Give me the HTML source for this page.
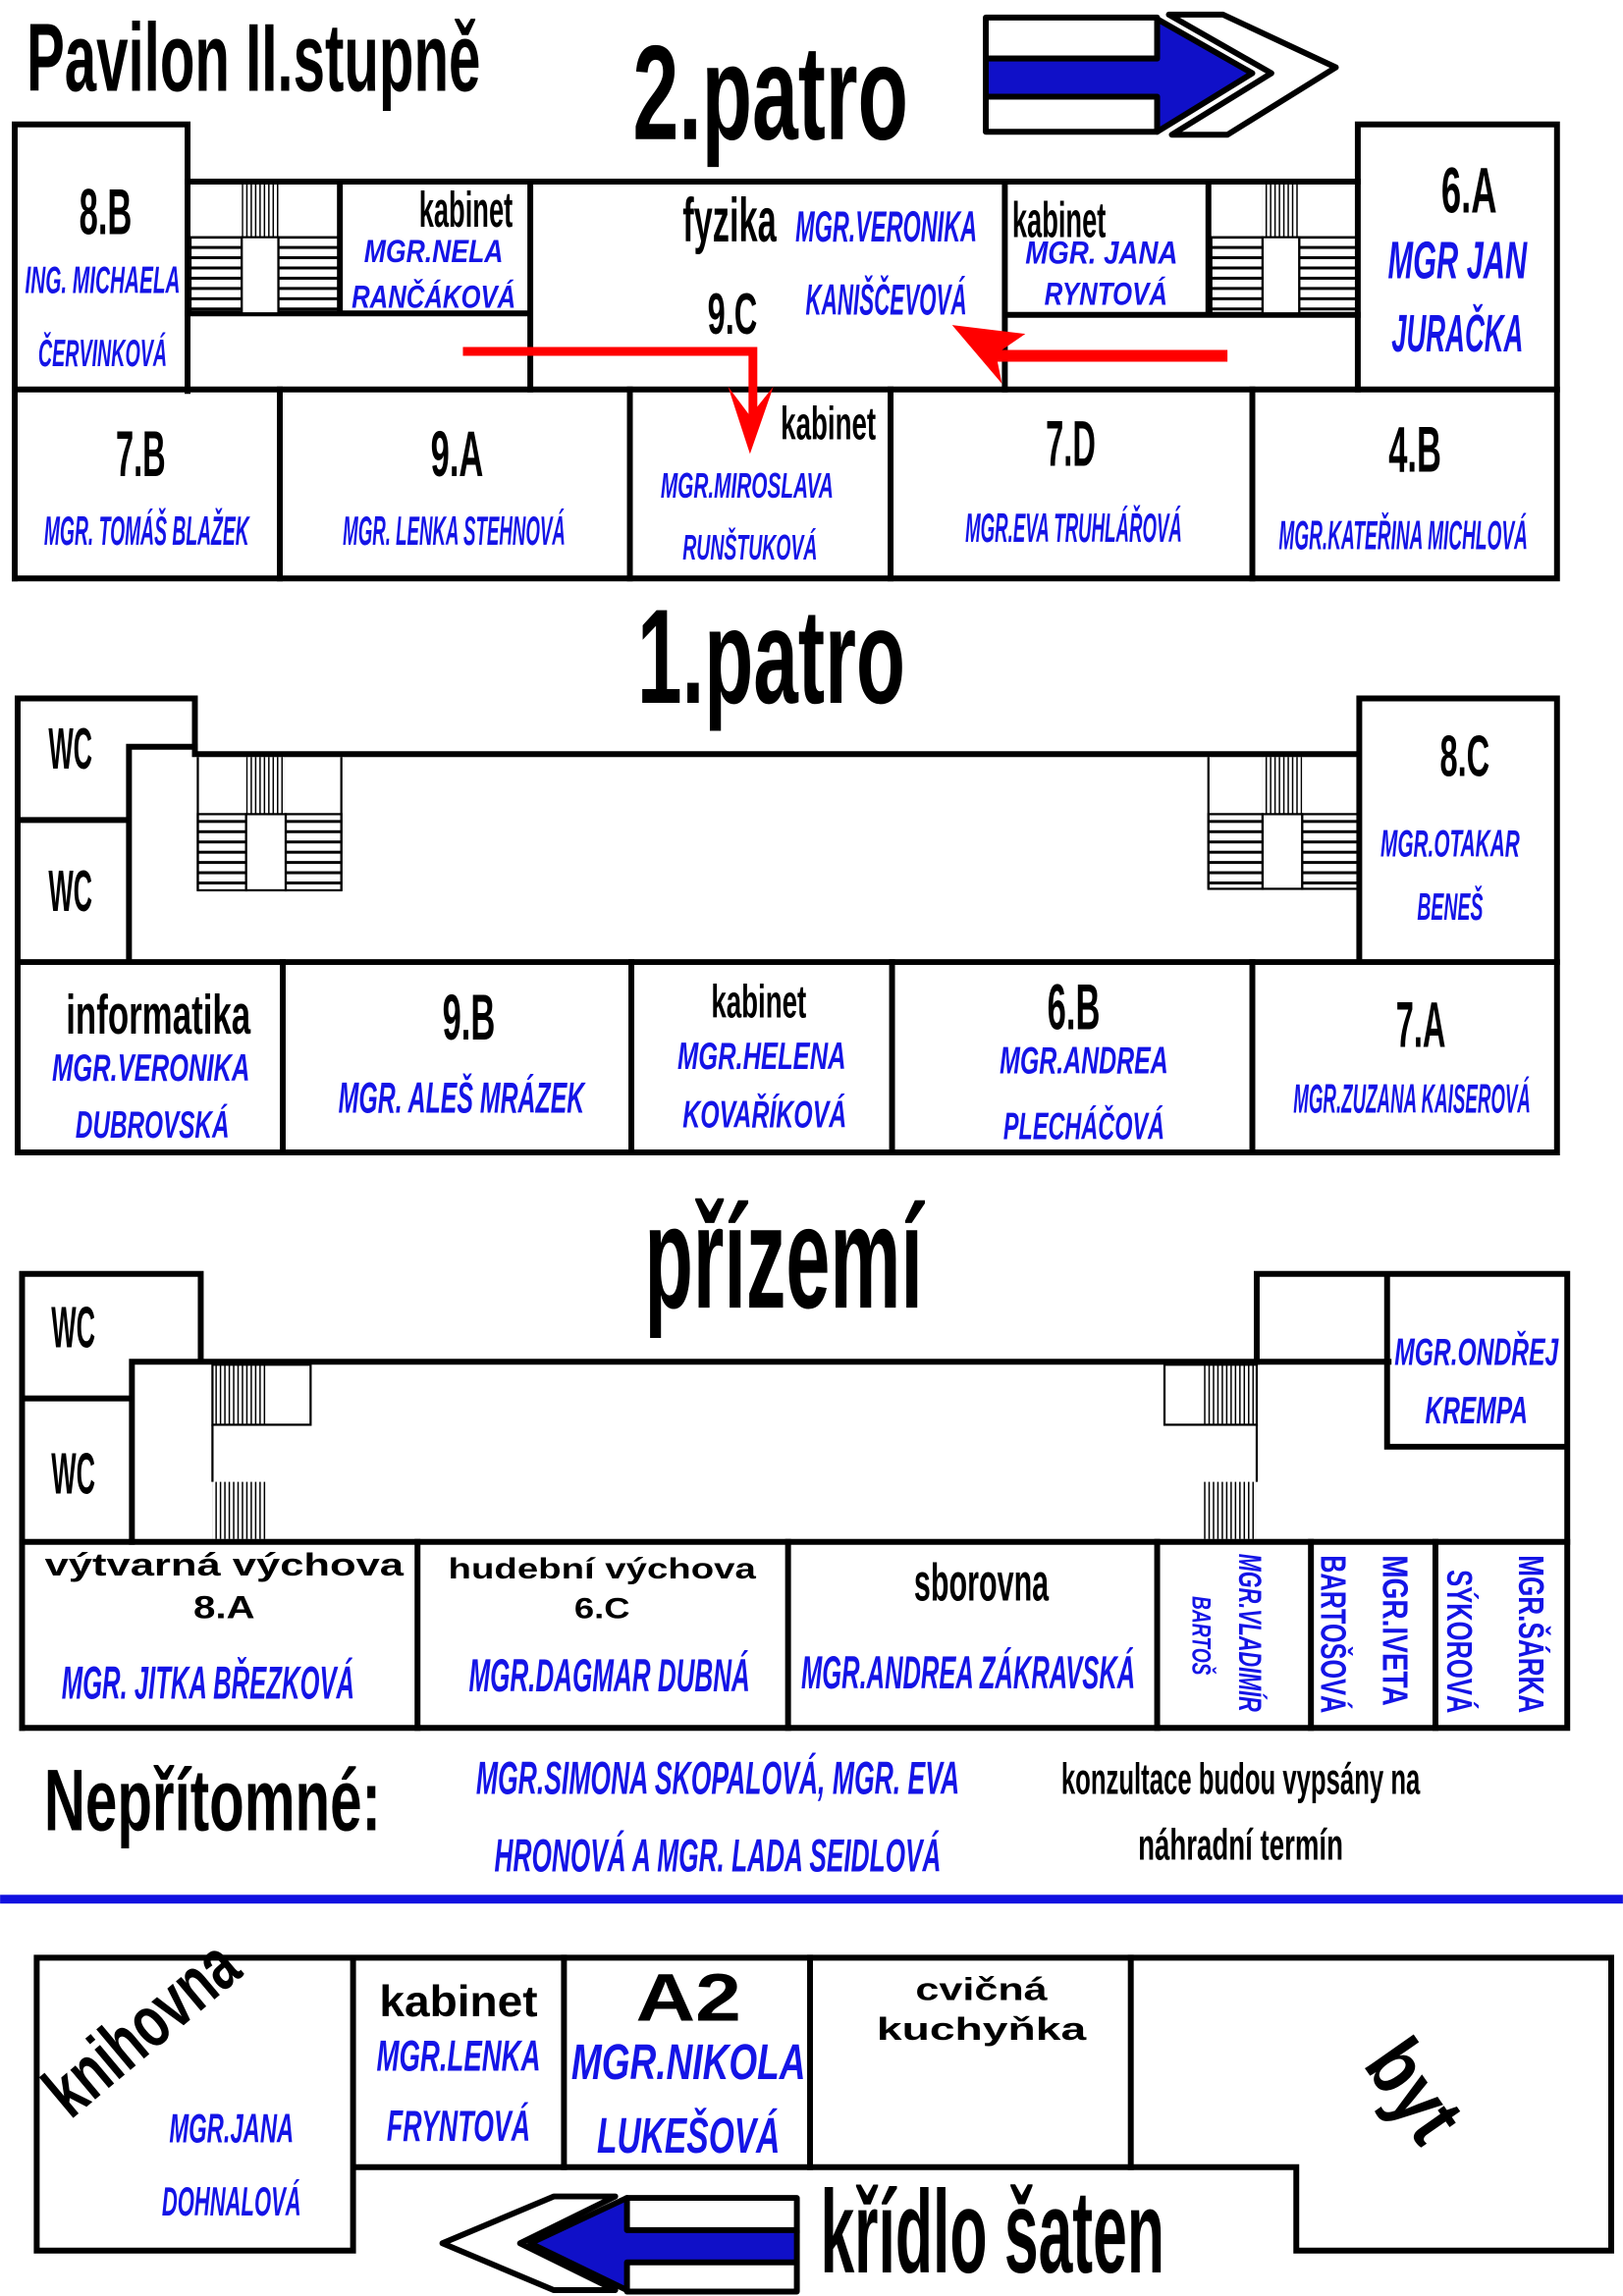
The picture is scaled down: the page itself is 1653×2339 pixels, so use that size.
<!DOCTYPE html>
<html><head><meta charset="utf-8"><style>
html,body{margin:0;padding:0;background:#fff}
svg{display:block}
text{font-family:"Liberation Sans Narrow","Liberation Sans",sans-serif;font-weight:bold}
.t{font-weight:bold;fill:#000}
.b{font-style:italic;fill:#1414e6}
.w{font-family:"Liberation Sans",sans-serif;font-weight:bold;fill:#000}
</style></head><body>
<svg width="1653" height="2339" viewBox="0 0 1108 1568" xmlns="http://www.w3.org/2000/svg">
<rect width="1108" height="1568" fill="#fff"/>
<text class="t" x="18" y="62" font-size="66" textLength="310" lengthAdjust="spacingAndGlyphs">Pavilon II.stupně</text>
<text class="t" x="432" y="95" font-size="92" textLength="188" lengthAdjust="spacingAndGlyphs">2.patro</text>
<g stroke="#000" stroke-width="4" stroke-linejoin="round">
<rect x="673" y="12" width="117" height="28" fill="#fff"/>
<rect x="673" y="66" width="117" height="24" fill="#fff"/>
<polygon points="798,10 835,10 912,46 838,92 800,92 868,50" fill="#fff"/>
<polygon points="673,40 790,40 790,13 855,50 790,90 790,66 673,66" fill="#1010c8"/>
</g>
<g fill="none" stroke="#000" stroke-width="4" stroke-linecap="square">
<path d="M10,395 V85 H128 V267"/>
<path d="M128,124 H927"/>
<path d="M927,266 V85 H1063 V395 H10"/>
<path d="M10,266 H1063"/>
<path d="M128,214 H362 M362,124 V266 M232,124 V214 M686,124 V266 M686,215 H927 M825,124 V215"/>
<path d="M191,266 V395 M430,266 V395 M608,266 V395 M855,266 V395"/>
<path d="M12,787 V477 H133 V515 H928 M928,657 V477 H1063 V787 H12"/>
<path d="M88,510 H133 M88,510 V657 M12,560 H88"/>
<path d="M12,657 H1063"/>
<path d="M193,657 V787 M431,657 V787 M609,657 V787 M855,657 V787"/>
<path d="M15,1180 V870 H137 V930 M90,930 H948 M90,930 V1053 M15,955 H90"/>
<path d="M858,930 V870 H1070 V1180 H15 M947,870 V988 H1070"/>
<path d="M15,1053 H1070"/>
<path d="M285,1053 V1180 M538,1053 V1180 M790,1053 V1180 M895,1053 V1180 M980,1053 V1180"/>
<path d="M25,1337 H1100 V1537 H885 V1480 H241 M25,1337 V1537 H241 V1337"/>
<path d="M385,1337 V1480 M553,1337 V1480 M772,1337 V1480"/>
</g>
<defs>
<pattern id="vh" width="3" height="10" patternUnits="userSpaceOnUse"><rect width="1" height="10" fill="#000"/></pattern>
<pattern id="hh" width="10" height="7" patternUnits="userSpaceOnUse"><rect width="10" height="2" fill="#000"/></pattern>
</defs>
<g stroke="#000" stroke-width="1.5">
<rect x="165" y="126" width="25" height="36" fill="url(#vh)" stroke="none"/>
<rect x="130" y="162" width="35" height="52" fill="url(#hh)"/>
<rect x="190" y="162" width="42" height="52" fill="url(#hh)"/>
<rect x="165" y="162" width="25" height="52" fill="#fff"/>
<rect x="862" y="126" width="25" height="36" fill="url(#vh)" stroke="none"/>
<rect x="827" y="162" width="35" height="52" fill="url(#hh)"/>
<rect x="887" y="162" width="40" height="52" fill="url(#hh)"/>
<rect x="862" y="162" width="25" height="52" fill="#fff"/>
<rect x="168" y="517" width="27" height="39" fill="url(#vh)" stroke="none"/>
<rect x="135" y="556" width="33" height="52" fill="url(#hh)"/>
<rect x="195" y="556" width="38" height="52" fill="url(#hh)"/>
<rect x="168" y="556" width="27" height="52" fill="#fff"/>
<line x1="135" y1="517" x2="135" y2="608"/><line x1="233" y1="517" x2="233" y2="608"/>
<rect x="862" y="517" width="27" height="39" fill="url(#vh)" stroke="none"/>
<rect x="825" y="556" width="37" height="51" fill="url(#hh)"/>
<rect x="889" y="556" width="38" height="51" fill="url(#hh)"/>
<rect x="862" y="556" width="27" height="51" fill="#fff"/>
<line x1="825" y1="517" x2="825" y2="607"/>
<rect x="145" y="932" width="67" height="41" fill="#fff"/>
<rect x="145" y="932" width="37" height="41" fill="url(#vh)" stroke="none"/>
<line x1="145" y1="973" x2="145" y2="1012"/>
<rect x="145" y="1012" width="37" height="39" fill="url(#vh)" stroke="none"/>
<rect x="795" y="932" width="63" height="41" fill="#fff"/>
<rect x="821" y="932" width="37" height="41" fill="url(#vh)" stroke="none"/>
<line x1="858" y1="973" x2="858" y2="1012"/>
<rect x="821" y="1012" width="37" height="39" fill="url(#vh)" stroke="none"/>
</g>
<g fill="#f00">
<polyline points="316,240 514,240 514,284" fill="none" stroke="#f00" stroke-width="6"/>
<polygon points="497,264 512,284 528,264 512,310"/>
<polygon points="650,222 700,228 684,239 838,239 838,247 681,247 684,262"/>
</g>
<text x="72" y="160" font-size="44" text-anchor="middle" textLength="36" lengthAdjust="spacingAndGlyphs">8.B</text>
<text class="b" x="70" y="200" font-size="26" text-anchor="middle" textLength="106" lengthAdjust="spacingAndGlyphs">ING. MICHAELA</text>
<text class="b" x="70" y="250" font-size="26" text-anchor="middle" textLength="88" lengthAdjust="spacingAndGlyphs">ČERVINKOVÁ</text>
<text x="318" y="155" font-size="34" text-anchor="middle" textLength="64" lengthAdjust="spacingAndGlyphs">kabinet</text>
<text class="b" x="296" y="179" font-size="22" text-anchor="middle" textLength="95" lengthAdjust="spacingAndGlyphs">MGR.NELA</text>
<text class="b" x="296" y="210" font-size="22" text-anchor="middle" textLength="112" lengthAdjust="spacingAndGlyphs">RANČÁKOVÁ</text>
<text x="498" y="165" font-size="42" text-anchor="middle" textLength="64" lengthAdjust="spacingAndGlyphs">fyzika</text>
<text class="b" x="605" y="165" font-size="30" text-anchor="middle" textLength="124" lengthAdjust="spacingAndGlyphs">MGR.VERONIKA</text>
<text class="b" x="605" y="215" font-size="30" text-anchor="middle" textLength="110" lengthAdjust="spacingAndGlyphs">KANIŠČEVOVÁ</text>
<text x="500" y="228" font-size="40" text-anchor="middle" textLength="34" lengthAdjust="spacingAndGlyphs">9.C</text>
<text x="691" y="162" font-size="34" textLength="64" lengthAdjust="spacingAndGlyphs">kabinet</text>
<text class="b" x="752" y="180" font-size="22" text-anchor="middle" textLength="104" lengthAdjust="spacingAndGlyphs">MGR. JANA</text>
<text class="b" x="755" y="208" font-size="22" text-anchor="middle" textLength="84" lengthAdjust="spacingAndGlyphs">RYNTOVÁ</text>
<text x="1003" y="145" font-size="44" text-anchor="middle" textLength="38" lengthAdjust="spacingAndGlyphs">6.A</text>
<text class="b" x="995" y="190" font-size="36" text-anchor="middle" textLength="95" lengthAdjust="spacingAndGlyphs">MGR JAN</text>
<text class="b" x="995" y="240" font-size="36" text-anchor="middle" textLength="90" lengthAdjust="spacingAndGlyphs">JURAČKA</text>
<text x="96" y="325" font-size="44" text-anchor="middle" textLength="34" lengthAdjust="spacingAndGlyphs">7.B</text>
<text class="b" x="100" y="372" font-size="28" text-anchor="middle" textLength="140" lengthAdjust="spacingAndGlyphs">MGR. TOMÁŠ BLAŽEK</text>
<text x="312" y="325" font-size="44" text-anchor="middle" textLength="36" lengthAdjust="spacingAndGlyphs">9.A</text>
<text class="b" x="310" y="372" font-size="28" text-anchor="middle" textLength="152" lengthAdjust="spacingAndGlyphs">MGR. LENKA STEHNOVÁ</text>
<text x="533" y="300" font-size="32" textLength="65" lengthAdjust="spacingAndGlyphs">kabinet</text>
<text class="b" x="510" y="340" font-size="24" text-anchor="middle" textLength="118" lengthAdjust="spacingAndGlyphs">MGR.MIROSLAVA</text>
<text class="b" x="512" y="382" font-size="24" text-anchor="middle" textLength="92" lengthAdjust="spacingAndGlyphs">RUNŠTUKOVÁ</text>
<text x="731" y="318" font-size="44" text-anchor="middle" textLength="34" lengthAdjust="spacingAndGlyphs">7.D</text>
<text class="b" x="733" y="370" font-size="28" text-anchor="middle" textLength="148" lengthAdjust="spacingAndGlyphs">MGR.EVA TRUHLÁŘOVÁ</text>
<text x="966" y="322" font-size="44" text-anchor="middle" textLength="36" lengthAdjust="spacingAndGlyphs">4.B</text>
<text class="b" x="958" y="375" font-size="28" text-anchor="middle" textLength="170" lengthAdjust="spacingAndGlyphs">MGR.KATEŘINA MICHLOVÁ</text>
<text class="t" x="435" y="480" font-size="92" textLength="183" lengthAdjust="spacingAndGlyphs">1.patro</text>
<text x="33" y="525" font-size="40" textLength="30" lengthAdjust="spacingAndGlyphs">WC</text>
<text x="33" y="622" font-size="40" textLength="30" lengthAdjust="spacingAndGlyphs">WC</text>
<text x="1000" y="530" font-size="40" text-anchor="middle" textLength="34" lengthAdjust="spacingAndGlyphs">8.C</text>
<text class="b" x="990" y="585" font-size="26" text-anchor="middle" textLength="95" lengthAdjust="spacingAndGlyphs">MGR.OTAKAR</text>
<text class="b" x="990" y="628" font-size="26" text-anchor="middle" textLength="45" lengthAdjust="spacingAndGlyphs">BENEŠ</text>
<text x="108" y="706" font-size="38" text-anchor="middle" textLength="126" lengthAdjust="spacingAndGlyphs">informatika</text>
<text class="b" x="103" y="738" font-size="26" text-anchor="middle" textLength="135" lengthAdjust="spacingAndGlyphs">MGR.VERONIKA</text>
<text class="b" x="104" y="777" font-size="26" text-anchor="middle" textLength="105" lengthAdjust="spacingAndGlyphs">DUBROVSKÁ</text>
<text x="320" y="710" font-size="44" text-anchor="middle" textLength="36" lengthAdjust="spacingAndGlyphs">9.B</text>
<text class="b" x="315" y="760" font-size="30" text-anchor="middle" textLength="168" lengthAdjust="spacingAndGlyphs">MGR. ALEŠ MRÁZEK</text>
<text x="518" y="695" font-size="32" text-anchor="middle" textLength="65" lengthAdjust="spacingAndGlyphs">kabinet</text>
<text class="b" x="520" y="730" font-size="26" text-anchor="middle" textLength="115" lengthAdjust="spacingAndGlyphs">MGR.HELENA</text>
<text class="b" x="522" y="770" font-size="26" text-anchor="middle" textLength="112" lengthAdjust="spacingAndGlyphs">KOVAŘÍKOVÁ</text>
<text x="733" y="703" font-size="44" text-anchor="middle" textLength="36" lengthAdjust="spacingAndGlyphs">6.B</text>
<text class="b" x="740" y="733" font-size="26" text-anchor="middle" textLength="115" lengthAdjust="spacingAndGlyphs">MGR.ANDREA</text>
<text class="b" x="740" y="778" font-size="26" text-anchor="middle" textLength="110" lengthAdjust="spacingAndGlyphs">PLECHÁČOVÁ</text>
<text x="970" y="715" font-size="44" text-anchor="middle" textLength="34" lengthAdjust="spacingAndGlyphs">7.A</text>
<text class="b" x="964" y="760" font-size="28" text-anchor="middle" textLength="162" lengthAdjust="spacingAndGlyphs">MGR.ZUZANA KAISEROVÁ</text>
<text class="t" x="440" y="893" font-size="100" textLength="190" lengthAdjust="spacingAndGlyphs">přízemí</text>
<text x="35" y="920" font-size="40" textLength="30" lengthAdjust="spacingAndGlyphs">WC</text>
<text x="35" y="1020" font-size="40" textLength="30" lengthAdjust="spacingAndGlyphs">WC</text>
<text class="b" x="1008" y="932" font-size="26" text-anchor="middle" textLength="112" lengthAdjust="spacingAndGlyphs">MGR.ONDŘEJ</text>
<text class="b" x="1008" y="972" font-size="26" text-anchor="middle" textLength="70" lengthAdjust="spacingAndGlyphs">KREMPA</text>
<text class="w" x="153" y="1076" font-size="22" text-anchor="middle" textLength="245" lengthAdjust="spacingAndGlyphs">výtvarná výchova</text>
<text class="w" x="153" y="1105" font-size="22" text-anchor="middle" textLength="42" lengthAdjust="spacingAndGlyphs">8.A</text>
<text class="b" x="142" y="1160" font-size="32" text-anchor="middle" textLength="200" lengthAdjust="spacingAndGlyphs">MGR. JITKA BŘEZKOVÁ</text>
<text class="w" x="411" y="1078" font-size="20" text-anchor="middle" textLength="210" lengthAdjust="spacingAndGlyphs">hudební výchova</text>
<text class="w" x="411" y="1105" font-size="20" text-anchor="middle" textLength="38" lengthAdjust="spacingAndGlyphs">6.C</text>
<text class="b" x="416" y="1155" font-size="32" text-anchor="middle" textLength="192" lengthAdjust="spacingAndGlyphs">MGR.DAGMAR DUBNÁ</text>
<text x="670" y="1093" font-size="36" text-anchor="middle" textLength="92" lengthAdjust="spacingAndGlyphs">sborovna</text>
<text class="b" x="661" y="1153" font-size="32" text-anchor="middle" textLength="228" lengthAdjust="spacingAndGlyphs">MGR.ANDREA ZÁKRAVSKÁ</text>
<text class="b" transform="translate(846,1061) rotate(90)" font-size="22" textLength="108" lengthAdjust="spacingAndGlyphs">MGR.VLADIMÍR</text>
<text class="b" transform="translate(814,1090) rotate(90)" font-size="18" textLength="54" lengthAdjust="spacingAndGlyphs">BARTOŠ</text>
<text class="b" transform="translate(902,1062) rotate(90)" font-size="24" style="font-style:normal;font-family:'Liberation Sans',sans-serif" textLength="108" lengthAdjust="spacingAndGlyphs">BARTOŠOVÁ</text>
<text class="b" transform="translate(944,1062) rotate(90)" font-size="24" style="font-style:normal;font-family:'Liberation Sans',sans-serif" textLength="103" lengthAdjust="spacingAndGlyphs">MGR.IVETA</text>
<text class="b" transform="translate(988,1072) rotate(90)" font-size="24" style="font-style:normal;font-family:'Liberation Sans',sans-serif" textLength="98" lengthAdjust="spacingAndGlyphs">SÝKOROVÁ</text>
<text class="b" transform="translate(1037,1062) rotate(90)" font-size="24" style="font-style:normal;font-family:'Liberation Sans',sans-serif" textLength="108" lengthAdjust="spacingAndGlyphs">MGR.ŠÁRKA</text>
<text class="t" x="30" y="1250" font-size="60" textLength="230" lengthAdjust="spacingAndGlyphs">Nepřítomné:</text>
<text class="b" x="490" y="1225" font-size="32" text-anchor="middle" textLength="330" lengthAdjust="spacingAndGlyphs">MGR.SIMONA SKOPALOVÁ, MGR. EVA</text>
<text class="b" x="490" y="1278" font-size="32" text-anchor="middle" textLength="305" lengthAdjust="spacingAndGlyphs">HRONOVÁ A MGR. LADA SEIDLOVÁ</text>
<text x="847" y="1225" font-size="30" text-anchor="middle" textLength="245" lengthAdjust="spacingAndGlyphs">konzultace budou vypsány na</text>
<text x="847" y="1270" font-size="30" text-anchor="middle" textLength="140" lengthAdjust="spacingAndGlyphs">náhradní termín</text>
<rect x="0" y="1294" width="1108" height="6" fill="#1010e0"/>
<text class="t" transform="translate(48,1448) rotate(-40)" font-size="50" textLength="155" lengthAdjust="spacingAndGlyphs">knihovna</text>
<text class="b" x="158" y="1463" font-size="28" text-anchor="middle" textLength="85" lengthAdjust="spacingAndGlyphs">MGR.JANA</text>
<text class="b" x="158" y="1513" font-size="28" text-anchor="middle" textLength="95" lengthAdjust="spacingAndGlyphs">DOHNALOVÁ</text>
<text class="w" x="313" y="1377" font-size="30" text-anchor="middle" textLength="108" lengthAdjust="spacingAndGlyphs">kabinet</text>
<text class="b" x="313" y="1414" font-size="30" text-anchor="middle" textLength="112" lengthAdjust="spacingAndGlyphs">MGR.LENKA</text>
<text class="b" x="313" y="1462" font-size="30" text-anchor="middle" textLength="98" lengthAdjust="spacingAndGlyphs">FRYNTOVÁ</text>
<text class="w" x="470" y="1380" font-size="46" text-anchor="middle" textLength="72" lengthAdjust="spacingAndGlyphs">A2</text>
<text class="b" x="470" y="1420" font-size="34" text-anchor="middle" textLength="160" lengthAdjust="spacingAndGlyphs" style="font-family:'Liberation Sans',sans-serif">MGR.NIKOLA</text>
<text class="b" x="470" y="1470" font-size="34" text-anchor="middle" textLength="125" lengthAdjust="spacingAndGlyphs" style="font-family:'Liberation Sans',sans-serif">LUKEŠOVÁ</text>
<text class="w" x="670" y="1366" font-size="22" text-anchor="middle" textLength="90" lengthAdjust="spacingAndGlyphs">cvičná</text>
<text class="w" x="670" y="1393" font-size="22" text-anchor="middle" textLength="143" lengthAdjust="spacingAndGlyphs">kuchyňka</text>
<text class="t" transform="translate(930,1410) rotate(55)" font-size="56" textLength="70" lengthAdjust="spacingAndGlyphs">byt</text>
<g stroke="#000" stroke-width="4" stroke-linejoin="round">
<rect x="428" y="1501" width="116" height="24" fill="#fff"/>
<rect x="428" y="1545" width="116" height="20" fill="#fff"/>
<polygon points="420,1500 378,1500 302,1532 378,1564 420,1564 355,1532" fill="#fff"/>
<polygon points="544,1523 428,1523 428,1501 362,1532 428,1564 428,1545 544,1545" fill="#1010c8"/>
</g>
<text class="t" x="560" y="1552" font-size="80" textLength="235" lengthAdjust="spacingAndGlyphs">křídlo šaten</text>
</svg>
</body></html>
